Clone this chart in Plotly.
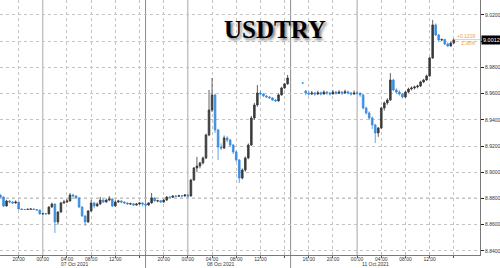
import pandas as pd
import plotly.graph_objects as go

# ---- data (30-minute candles, USDTRY) ----
# Week session 1: 6 Oct 17:00 -> 8 Oct 16:30
times_a = list(pd.date_range("2021-10-06 17:00", periods=96, freq="30min"))
open_a = [8.8825, 8.8811, 8.8743, 8.8781, 8.8773, 8.8766, 8.8773, 8.8720, 8.8716, 8.8716,
          8.8718, 8.8720, 8.8716, 8.8712, 8.8682, 8.8684, 8.8682, 8.8735, 8.8758, 8.8621,
          8.8697, 8.8766, 8.8773, 8.8781, 8.8827, 8.8819, 8.8804, 8.8735, 8.8667, 8.8621,
          8.8705, 8.8766, 8.8743, 8.8758, 8.8788, 8.8773, 8.8788, 8.8796, 8.8743, 8.8773,
          8.8781, 8.8773, 8.8766, 8.8758, 8.8760, 8.8750, 8.8758, 8.8766, 8.8758, 8.8750,
          8.8766, 8.8804, 8.8781, 8.8783, 8.8773, 8.8788, 8.8811, 8.8809, 8.8819, 8.8817,
          8.8821, 8.8819, 8.8827, 8.8819, 8.8941, 8.9033, 8.9048, 8.9071, 8.9109, 8.9284,
          8.9475, 8.9590, 8.9323, 8.9193, 8.9185, 8.9262, 8.9246, 8.9208, 8.9155, 8.9094,
          8.8956, 8.9017, 8.9109, 8.9208, 8.9414, 8.9513, 8.9605, 8.9597, 8.9582, 8.9574,
          8.9567, 8.9551, 8.9544, 8.9590, 8.9643, 8.9674]
high_a = [8.8832, 8.8815, 8.8790, 8.8788, 8.8780, 8.8785, 8.8776, 8.8724, 8.8721, 8.8722,
          8.8723, 8.8722, 8.8719, 8.8714, 8.8688, 8.8687, 8.8740, 8.8768, 8.8762, 8.8702,
          8.8775, 8.8790, 8.8795, 8.8842, 8.8835, 8.8826, 8.8808, 8.8740, 8.8672, 8.8712,
          8.8790, 8.8775, 8.8770, 8.8812, 8.8795, 8.8800, 8.8818, 8.8802, 8.8785, 8.8790,
          8.8786, 8.8778, 8.8770, 8.8768, 8.8765, 8.8764, 8.8772, 8.8770, 8.8763, 8.8772,
          8.8842, 8.8810, 8.8790, 8.8788, 8.8795, 8.8818, 8.8816, 8.8824, 8.8825, 8.8828,
          8.8826, 8.8834, 8.8832, 8.8950, 8.9040, 8.9117, 8.9080, 8.9120, 8.9295, 8.9628,
          8.9719, 8.9600, 8.9330, 8.9220, 8.9280, 8.9275, 8.9255, 8.9215, 8.9165, 8.9100,
          8.9030, 8.9120, 8.9220, 8.9430, 8.9530, 8.9666, 8.9625, 8.9605, 8.9590, 8.9582,
          8.9572, 8.9558, 8.9600, 8.9652, 8.9682, 8.9742]
low_a = [8.8805, 8.8735, 8.8738, 8.8762, 8.8758, 8.8760, 8.8715, 8.8712, 8.8713, 8.8714,
         8.8715, 8.8712, 8.8708, 8.8678, 8.8680, 8.8679, 8.8680, 8.8730, 8.8537, 8.8600,
         8.8690, 8.8760, 8.8765, 8.8776, 8.8812, 8.8798, 8.8728, 8.8660, 8.8590, 8.8615,
         8.8698, 8.8725, 8.8738, 8.8752, 8.8765, 8.8768, 8.8780, 8.8735, 8.8738, 8.8768,
         8.8765, 8.8760, 8.8752, 8.8752, 8.8744, 8.8746, 8.8752, 8.8740, 8.8735, 8.8744,
         8.8760, 8.8775, 8.8772, 8.8766, 8.8768, 8.8782, 8.8802, 8.8804, 8.8810, 8.8812,
         8.8812, 8.8814, 8.8806, 8.8815, 8.8935, 8.9000, 8.9030, 8.9060, 8.9100, 8.9275,
         8.9460, 8.9300, 8.9094, 8.9170, 8.9178, 8.9230, 8.9195, 8.9140, 8.9080, 8.8918,
         8.8945, 8.9005, 8.9100, 8.9200, 8.9400, 8.9500, 8.9585, 8.9575, 8.9568, 8.9560,
         8.9545, 8.9538, 8.9540, 8.9585, 8.9636, 8.9668]
close_a = [8.8811, 8.8743, 8.8781, 8.8773, 8.8766, 8.8773, 8.8720, 8.8716, 8.8716, 8.8718,
           8.8720, 8.8716, 8.8712, 8.8682, 8.8684, 8.8682, 8.8735, 8.8758, 8.8621, 8.8697,
           8.8766, 8.8773, 8.8781, 8.8827, 8.8819, 8.8804, 8.8735, 8.8667, 8.8621, 8.8705,
           8.8766, 8.8743, 8.8758, 8.8788, 8.8773, 8.8788, 8.8796, 8.8743, 8.8773, 8.8781,
           8.8773, 8.8766, 8.8758, 8.8760, 8.8750, 8.8758, 8.8766, 8.8758, 8.8750, 8.8766,
           8.8804, 8.8781, 8.8783, 8.8773, 8.8788, 8.8811, 8.8809, 8.8819, 8.8817, 8.8821,
           8.8819, 8.8827, 8.8819, 8.8941, 8.9033, 8.9048, 8.9071, 8.9109, 8.9284, 8.9475,
           8.9590, 8.9323, 8.9193, 8.9185, 8.9262, 8.9246, 8.9208, 8.9155, 8.9094, 8.8956,
           8.9017, 8.9109, 8.9208, 8.9414, 8.9513, 8.9605, 8.9597, 8.9582, 8.9574, 8.9567,
           8.9551, 8.9544, 8.9590, 8.9643, 8.9674, 8.9719]

# Sunday single print
times_dot = [pd.Timestamp("2021-10-10 15:00")]
open_dot, high_dot, low_dot, close_dot = [8.9681], [8.9681], [8.9681], [8.9681]

# Session 2: 10 Oct 15:30 -> 11 Oct 16:00
times_b = list(pd.date_range("2021-10-10 15:30", periods=50, freq="30min"))
open_b = [8.9620, 8.9605, 8.9597, 8.9605, 8.9597, 8.9607, 8.9597, 8.9612, 8.9605, 8.9597,
          8.9612, 8.9603, 8.9612, 8.9605, 8.9614, 8.9605, 8.9597, 8.9605, 8.9603, 8.9590,
          8.9490, 8.9452, 8.9414, 8.9361, 8.9300, 8.9338, 8.9490, 8.9529, 8.9551, 8.9704,
          8.9628, 8.9612, 8.9597, 8.9574, 8.9612, 8.9635, 8.9643, 8.9651, 8.9658, 8.9689,
          8.9704, 8.9735, 8.9872, 9.0124, 9.0047, 9.0009, 9.0012, 8.9979, 8.9963, 8.9986]
high_b = [8.9628, 8.9618, 8.9620, 8.9612, 8.9622, 8.9615, 8.9625, 8.9618, 8.9612, 8.9628,
          8.9620, 8.9626, 8.9618, 8.9630, 8.9622, 8.9612, 8.9624, 8.9618, 8.9610, 8.9596,
          8.9500, 8.9465, 8.9425, 8.9370, 8.9345, 8.9500, 8.9540, 8.9565, 8.9757, 8.9712,
          8.9640, 8.9625, 8.9605, 8.9620, 8.9645, 8.9655, 8.9660, 8.9668, 8.9698, 8.9712,
          8.9745, 8.9880, 9.0162, 9.0135, 9.0055, 9.0020, 9.0018, 8.9990, 8.9995, 9.0020]
low_b = [8.9588, 8.9585, 8.9590, 8.9584, 8.9590, 8.9586, 8.9592, 8.9590, 8.9585, 8.9592,
         8.9592, 8.9596, 8.9590, 8.9598, 8.9594, 8.9585, 8.9590, 8.9592, 8.9575, 8.9480,
         8.9440, 8.9400, 8.9330, 8.9223, 8.9270, 8.9330, 8.9470, 8.9515, 8.9545, 8.9620,
         8.9600, 8.9585, 8.9562, 8.9568, 8.9605, 8.9625, 8.9632, 8.9640, 8.9650, 8.9680,
         8.9698, 8.9728, 8.9865, 9.0040, 9.0000, 9.0000, 8.9970, 8.9955, 8.9958, 8.9980]
close_b = [8.9605, 8.9597, 8.9605, 8.9597, 8.9607, 8.9597, 8.9612, 8.9605, 8.9597, 8.9612,
           8.9603, 8.9612, 8.9605, 8.9614, 8.9605, 8.9597, 8.9605, 8.9603, 8.9590, 8.9490,
           8.9452, 8.9414, 8.9361, 8.9300, 8.9338, 8.9490, 8.9529, 8.9551, 8.9704, 8.9628,
           8.9612, 8.9597, 8.9574, 8.9612, 8.9635, 8.9643, 8.9651, 8.9658, 8.9689, 8.9704,
           8.9735, 8.9872, 9.0124, 9.0047, 9.0009, 9.0012, 8.9979, 8.9963, 8.9986, 9.0012]

prev_close = 8.8803
last_price = 9.0012
change_text = "+0.1209"
change_pct = "1.36%"

y_tickvals = [8.84, 8.86, 8.88, 8.90, 8.92, 8.94, 8.96, 8.98, 9.00, 9.02]
y_ticktext = ["8.8400", "8.8600", "8.8800", "8.9000", "8.9200", "8.9400", "8.9600",
              "8.9800", "", "9.0200"]

tick_times = ["2021-10-06 20:00", "2021-10-07 00:00", "2021-10-07 04:00", "2021-10-07 08:00",
              "2021-10-07 12:00", "2021-10-07 16:00", "2021-10-07 20:00", "2021-10-08 00:00",
              "2021-10-08 04:00", "2021-10-08 08:00", "2021-10-08 12:00", "2021-10-08 16:00",
              "2021-10-10 16:00", "2021-10-10 20:00", "2021-10-11 00:00", "2021-10-11 04:00",
              "2021-10-11 08:00", "2021-10-11 12:00", "2021-10-11 16:00"]
tick_text = ["20:00", "00:00", "04:00", "08:00", "12:00", "", "20:00", "00:00", "04:00",
             "08:00", "12:00", "", "16:00", "20:00", "00:00", "04:00", "08:00", "12:00", ""]
date_labels = ["07 Oct 2021", "08 Oct 2021", "11 Oct 2021"]
date_label_pos = ["2021-10-07 05:10", "2021-10-08 05:20", "2021-10-11 03:00"]
midnight_lines = ["2021-10-07 00:00", "2021-10-08 00:00", "2021-10-11 00:00"]
session_lines = ["2021-10-07 17:00", "2021-10-08 16:59:59"]

times = times_a + times_dot + times_b
opens = open_a + open_dot + open_b
highs = high_a + high_dot + high_b
lows = low_a + low_dot + low_b
closes = close_a + close_dot + close_b

UP = "#3a3a3a"
DOWN = "#3b8de0"
GRID = "#c4c4c4"
ORANGE = "#eba23e"

fig = go.Figure()
fig.add_trace(go.Candlestick(
    x=times, open=opens, high=highs, low=lows, close=closes,
    increasing=dict(line=dict(color=UP, width=0.8), fillcolor=UP),
    decreasing=dict(line=dict(color=DOWN, width=0.8), fillcolor=DOWN),
    whiskerwidth=0, showlegend=False, hoverinfo="skip",
))

shapes = []
for t in midnight_lines:
    shapes.append(dict(type="line", xref="x", yref="paper", x0=t, x1=t, y0=0, y1=1,
                       line=dict(color="#a8a8a8", width=1), layer="below"))
for t in session_lines:
    shapes.append(dict(type="line", xref="x", yref="paper", x0=t, x1=t, y0=-0.06, y1=1,
                       line=dict(color="#8c8c8c", width=1), layer="below"))
shapes.append(dict(type="line", xref="paper", yref="y", x0=0, x1=1, y0=prev_close, y1=prev_close,
                   line=dict(color=ORANGE, width=1, dash="dot"), layer="below"))
shapes.append(dict(type="line", xref="x", yref="y", x0=times[-1], x1="2021-10-11 20:20",
                   y0=last_price, y1=last_price, line=dict(color="#f4cf96", width=1)))

annotations = [
    dict(text="<b>USDTRY</b>", xref="paper", yref="paper", x=0.572, y=0.884,
         showarrow=False, xanchor="center", yanchor="middle",
         font=dict(family="Liberation Serif", size=25, color="#000000",
                   shadow="2px 2px 3px rgba(0,0,0,0.55)")),
    dict(text=f"{last_price:.4f}", xref="paper", yref="y", x=1.0, y=last_price,
         xanchor="left", yanchor="middle", xshift=1, showarrow=False,
         bgcolor="#000000", borderpad=1,
         font=dict(family="Liberation Sans", size=5.5, color="#ffffff")),
    dict(text=f"{change_text}<br>{change_pct}", xref="paper", yref="y", x=0.996, y=last_price,
         xanchor="right", yanchor="middle", showarrow=False, align="right",
         font=dict(family="Liberation Sans", size=5, color=ORANGE)),
]
for lab, pos in zip(date_labels, date_label_pos):
    annotations.append(dict(text=lab, xref="x", yref="paper", x=pos, y=-0.036,
                            xanchor="center", yanchor="middle", showarrow=False,
                            font=dict(family="Liberation Sans", size=5, color="#333333")))

fig.update_layout(
    width=500, height=268,
    margin=dict(l=0, r=20, t=0, b=13, pad=0),
    paper_bgcolor="white", plot_bgcolor="white",
    boxgap=0.45, boxgroupgap=0.0,
    shapes=shapes, annotations=annotations,
    xaxis=dict(
        type="date", range=["2021-10-06 16:55", "2021-10-11 20:20"],
        rangebreaks=[dict(bounds=["2021-10-08 17:00", "2021-10-10 13:00"])],
        rangeslider=dict(visible=False),
        tickmode="array", tickvals=tick_times, ticktext=tick_text,
        showgrid=True, gridcolor=GRID, griddash="dot", gridwidth=1,
        showline=True, linecolor="#7a7a7a", linewidth=1,
        ticks="outside", ticklen=2, tickcolor="#555555",
        ticklabelstandoff=-3,
        tickfont=dict(family="Liberation Sans", size=5, color="#333333"),
        zeroline=False, automargin=False, fixedrange=True,
    ),
    yaxis=dict(
        side="right", range=[8.8369, 9.0314],
        tickmode="array", tickvals=y_tickvals, ticktext=y_ticktext,
        showgrid=True, gridcolor=GRID, griddash="dot", gridwidth=1,
        showline=True, linecolor="#7a7a7a", linewidth=1,
        ticks="outside", ticklen=3, tickcolor="#222222",
        tickfont=dict(family="Liberation Sans", size=5, color="#333333"),
        zeroline=False, automargin=False, fixedrange=True,
    ),
)

fig.write_html("out.html")
